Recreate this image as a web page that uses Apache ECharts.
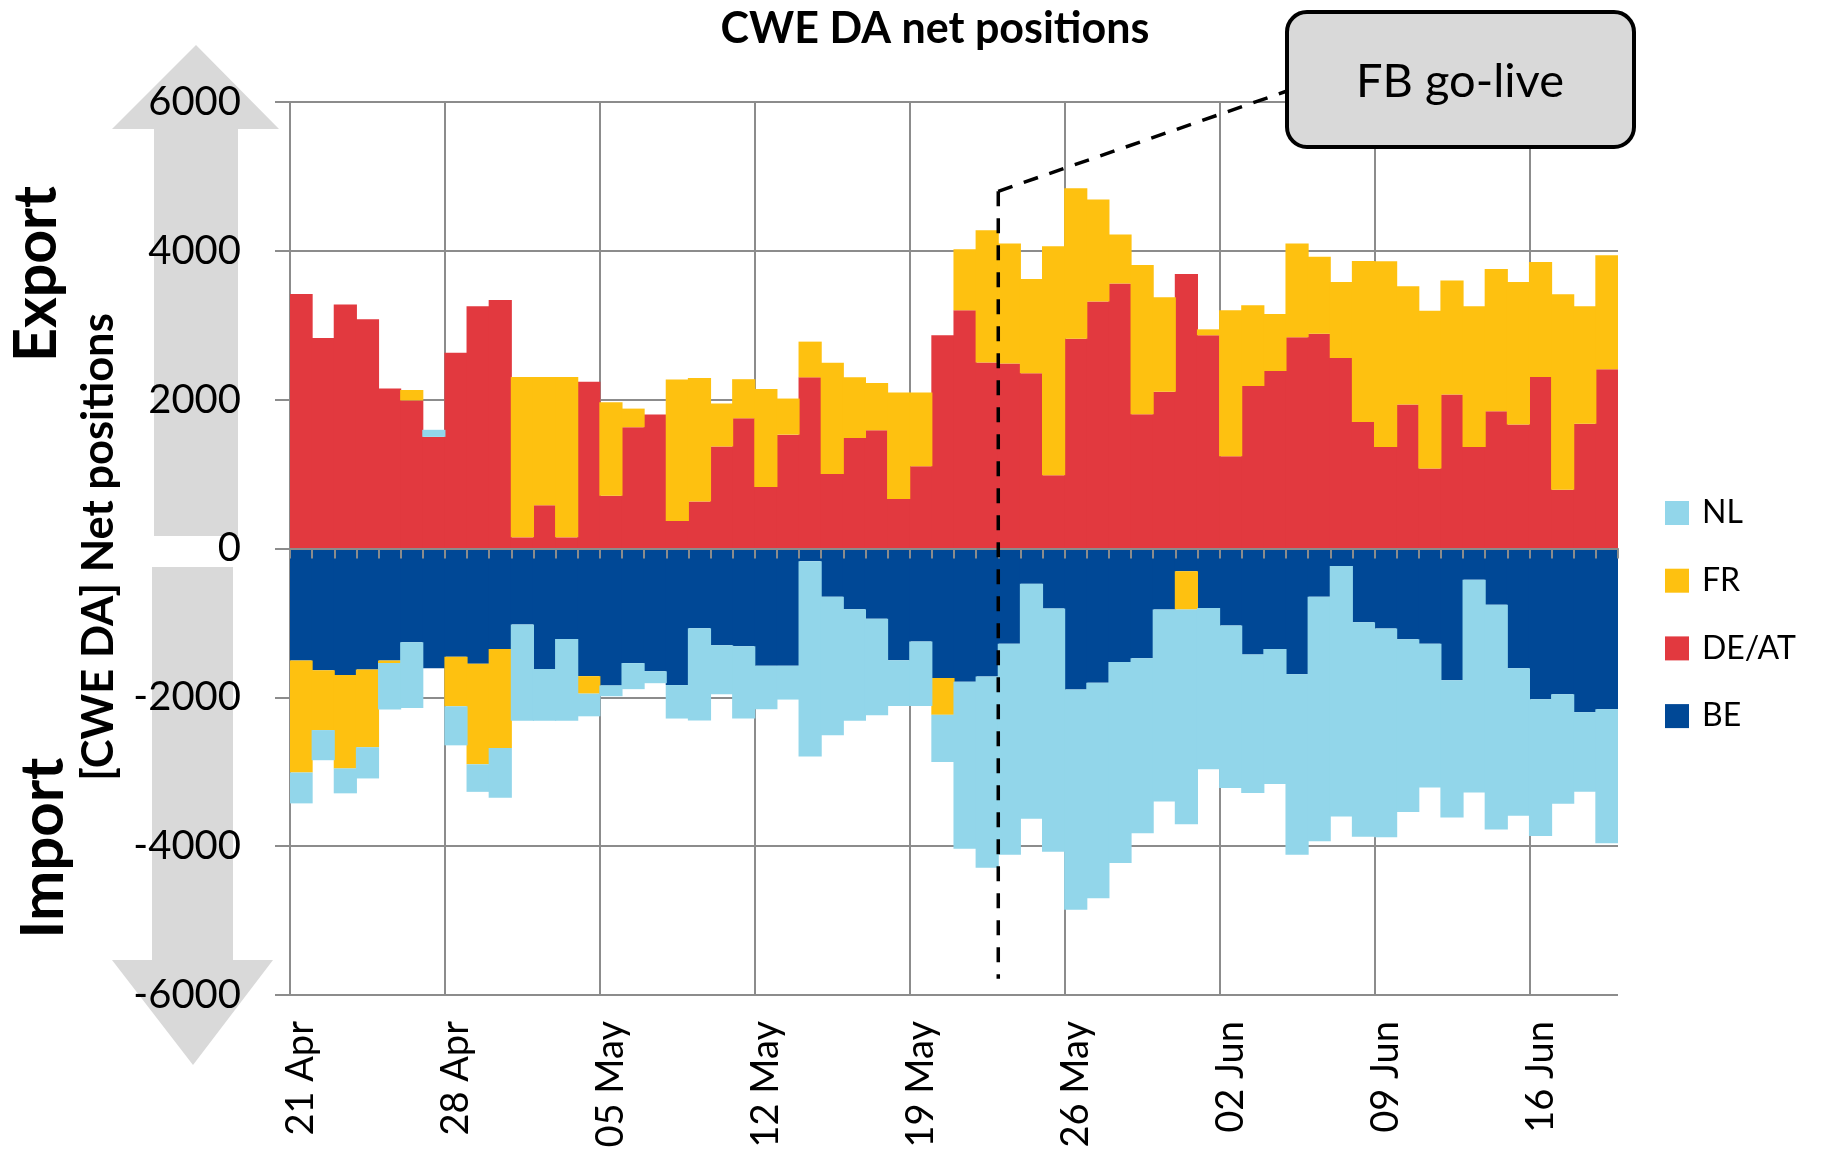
<!DOCTYPE html>
<html><head><meta charset="utf-8">
<script src="https://cdn.jsdelivr.net/npm/echarts@6/dist/echarts.min.js"></script>
<style>html,body{margin:0;padding:0;background:#fff}#c{width:1826px;height:1151px}</style>
</head><body><div id="c"></div>
<script>
const categories = [
 '21 Apr','22 Apr','23 Apr','24 Apr','25 Apr','26 Apr','27 Apr','28 Apr','29 Apr','30 Apr',
 '01 May','02 May','03 May','04 May','05 May','06 May','07 May','08 May','09 May','10 May',
 '11 May','12 May','13 May','14 May','15 May','16 May','17 May','18 May','19 May','20 May',
 '21 May','22 May','23 May','24 May','25 May','26 May','27 May','28 May','29 May','30 May','31 May',
 '01 Jun','02 Jun','03 Jun','04 Jun','05 Jun','06 Jun','07 Jun','08 Jun','09 Jun','10 Jun',
 '11 Jun','12 Jun','13 Jun','14 Jun','15 Jun','16 Jun','17 Jun','18 Jun','19 Jun'
];
const beValues = [
 -1505,-1635,-1700,-1625,-1505,-1260,-1610,-1455,-1550,-1350,
 -1020,-1620,-1215,-1715,-1840,-1540,-1650,-1835,-1070,-1300,
 -1315,-1575,-1575,-170,-650,-815,-945,-1500,-1250,-1740,
 -1790,-1720,-1280,-475,-805,-1895,-1805,-1525,-1475,-820,-305,
 -800,-1035,-1425,-1350,-1690,-650,-235,-990,-1075,-1220,
 -1280,-1770,-420,-755,-1610,-2025,-1960,-2200,-2160
];
const deatValues = [
 3420,2830,3280,3080,2150,1990,1500,2630,3255,3340,
 150,580,150,2240,710,1630,1800,370,630,1370,
 1750,825,1530,2300,1000,1485,1590,665,1105,2865,
 3200,2500,2485,2355,985,2820,3320,3560,1805,2105,3690,
 2865,1240,2185,2385,2840,2885,2560,1700,1365,1935,
 1075,2070,1365,1845,1665,2305,790,1675,2410
];
const frValues = [
 -1505,-805,-1255,-1045,-35,140,0,-665,-1350,-1330,
 2155,1725,2155,-235,1255,250,0,1900,1660,580,
 525,1320,485,480,1495,815,635,1430,990,-495,
 820,1775,1615,1265,3075,2020,1370,660,2005,1270,-515,
 80,1960,1085,765,1260,1035,1020,2165,2495,1590,
 2120,1530,1890,1910,1915,1545,2625,1580,1530
];
const nlValues = [
 -415,-405,-335,-420,-625,-885,95,-525,-370,-670,
 -1295,-695,-1100,-305,-145,-350,-160,-450,-1240,-660,
 -970,-585,-455,-2625,-1860,-1500,-1295,-615,-865,-635,
 -2245,-2570,-2835,-3155,-3270,-2960,-2895,-2700,-2350,-2580,-2885,
 -2165,-2185,-1860,-1815,-2425,-3285,-3365,-2885,-2805,-2320,
 -1930,-1845,-2860,-3020,-1980,-1840,-1470,-1070,-1800
];
const seriesNames = ['BE','DE/AT','FR','NL'];
const legendOrder = ['NL','FR','DE/AT','BE'];
const yMin = -6000, yMax = 6000, yStep = 2000;
const goLive = { before: '22 May', after: '23 May', top: 4800, bottom: -5780, label: 'FB go-live' };

const FONT = 'Lato';
const GRID = '#8c8c8c';
const colors = { 'BE': '#004896', 'DE/AT': '#E2393F', 'FR': '#FEC110', 'NL': '#92D6EA' };
const valuesByName = { 'BE': beValues, 'DE/AT': deatValues, 'FR': frValues, 'NL': nlValues };

const chart = echarts.init(document.getElementById('c'), null, { renderer: 'canvas' });

chart.setOption({
  animation: false,
  backgroundColor: '#fff',
  grid: { left: 290, right: 208, top: 102, bottom: 156, containLabel: false },
  legend: {
    orient: 'vertical', left: 1665, top: 497, padding: 0,
    itemWidth: 24, itemHeight: 24, itemGap: 35.7, icon: 'rect',
    data: legendOrder,
    itemStyle: { borderWidth: 0 },
    textStyle: { fontFamily: FONT, fontSize: 32, color: '#000', padding: [0, 0, 0, 8] }
  },
  xAxis: [
    {
      type: 'category', data: categories, position: 'bottom', z: 10, zlevel: 1,
      axisLine: { show: true, onZero: true, onZeroAxisIndex: 0, lineStyle: { color: GRID, width: 2 } },
      axisTick: { show: true, inside: false, interval: 0, length: 10, lineStyle: { color: GRID, width: 2 } },
      axisLabel: { show: false },
      splitLine: { show: false }
    },
    {
      type: 'category', data: categories, position: 'bottom',
      axisLine: { show: false, onZero: false },
      axisTick: { show: false },
      axisLabel: { show: true, interval: 6, rotate: 90, margin: 26, fontFamily: FONT, fontSize: 38, color: '#000' },
      splitLine: { show: true, interval: 6, showMaxLine: false, lineStyle: { color: GRID, width: 2 } }
    }
  ],
  yAxis: {
    type: 'value', min: yMin, max: yMax, interval: yStep,
    axisLine: { show: true, onZero: false, lineStyle: { color: GRID, width: 2 } },
    axisTick: { show: true, length: 15, lineStyle: { color: GRID, width: 2 } },
    axisLabel: { fontFamily: FONT, fontSize: 40, color: '#000', margin: 49, formatter: v => String(v) },
    splitLine: { show: true, lineStyle: { color: GRID, width: 2 } }
  },
  series: seriesNames.map(n => ({
    name: n, type: 'bar', stack: 'net', xAxisIndex: 0, yAxisIndex: 0,
    barWidth: 23.2, barGap: '0%',
    itemStyle: { color: colors[n], borderWidth: 0 },
    data: valuesByName[n]
  }))
});

const xa = chart.convertToPixel({ xAxisIndex: 0 }, goLive.before);
const xb = chart.convertToPixel({ xAxisIndex: 0 }, goLive.after);
const gx = (xa + xb) / 2;
const yTop = chart.convertToPixel({ yAxisIndex: 0 }, goLive.top);
const yBot = chart.convertToPixel({ yAxisIndex: 0 }, goLive.bottom);
const dash = { stroke: '#000', lineWidth: 3.5, lineDash: [15, 12] };

chart.setOption({
  graphic: [
    { type: 'polygon', z: -10, shape: { points: [[154,536],[154,129],[112,129],[196,45],[279,129],[238,129],[238,536]] }, style: { fill: '#d9d9d9' } },
    { type: 'polygon', z: -10, shape: { points: [[152,567],[233,567],[233,960],[273,960],[193,1065],[112,960],[152,960]] }, style: { fill: '#d9d9d9' } },
    { type: 'text', x: 935, y: 29, style: { text: 'CWE DA net positions', fontFamily: FONT, fontSize: 43, fontWeight: 'bold', fill: '#000', align: 'center', verticalAlign: 'middle' } },
    { type: 'text', x: 37, y: 274, rotation: Math.PI / 2, style: { text: 'Export', fontFamily: FONT, fontSize: 59, fontWeight: 'bold', fill: '#000', align: 'center', verticalAlign: 'middle' } },
    { type: 'text', x: 44, y: 848, rotation: Math.PI / 2, style: { text: 'Import', fontFamily: FONT, fontSize: 60, fontWeight: 'bold', fill: '#000', align: 'center', verticalAlign: 'middle' } },
    { type: 'text', x: 99, y: 547, rotation: Math.PI / 2, style: { text: '[CWE DA] Net positions', fontFamily: FONT, fontSize: 43.5, fontWeight: 'bold', fill: '#000', align: 'center', verticalAlign: 'middle' } },
    { type: 'line', z: 100, zlevel: 2, shape: { x1: gx, y1: yTop, x2: gx, y2: yBot }, style: dash },
    { type: 'line', z: 100, zlevel: 2, shape: { x1: gx, y1: yTop, x2: 1287, y2: 91 }, style: dash },
    { type: 'rect', z: 100, zlevel: 2, shape: { x: 1287, y: 12, width: 347, height: 135, r: 20 }, style: { fill: '#d9d9d9', stroke: '#000', lineWidth: 4 } },
    { type: 'text', z: 101, zlevel: 2, x: 1460, y: 82, style: { text: goLive.label, fontFamily: FONT, fontSize: 47, fill: '#000', align: 'center', verticalAlign: 'middle' } }
  ]
});
</script></body></html>
